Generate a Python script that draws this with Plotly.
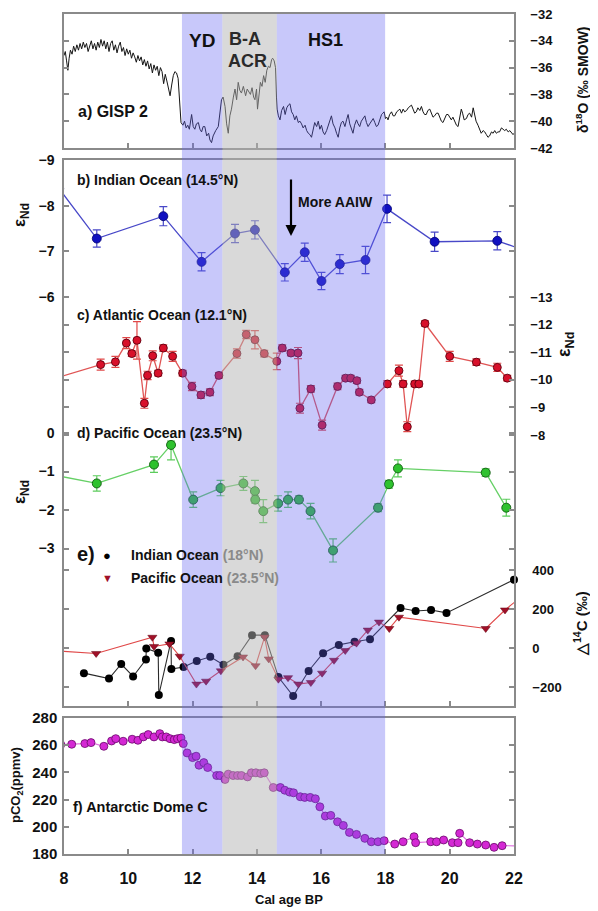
import plotly.graph_objects as go

# ---------------- data ----------------
# a) GISP2 delta18O
gisp_age = [8.00, 8.04, 8.08, 8.12, 8.16, 8.20, 8.25, 8.30, 8.35, 8.40, 8.45, 8.50, 8.55, 8.60, 8.65, 8.70,
            8.75, 8.80, 8.85, 8.90, 8.95, 9.00, 9.05, 9.10, 9.15, 9.20, 9.25, 9.30, 9.35, 9.40, 9.45, 9.50,
            9.55, 9.60, 9.65, 9.70, 9.75, 9.80, 9.85, 9.90, 9.95, 10.00, 10.05, 10.10, 10.15, 10.20, 10.25,
            10.30, 10.35, 10.40, 10.45, 10.50, 10.55, 10.60, 10.65, 10.70, 10.75, 10.80, 10.85, 10.90, 10.95,
            11.00, 11.05, 11.10, 11.15, 11.20, 11.25, 11.30, 11.35, 11.40, 11.45, 11.50, 11.55, 11.60, 11.64,
            11.70, 11.75, 11.80, 11.85, 11.90, 11.97, 12.02, 12.07, 12.12, 12.18, 12.23, 12.28, 12.33, 12.38,
            12.44, 12.50, 12.54, 12.59, 12.64, 12.67, 12.72, 12.80, 12.86, 12.90, 12.95, 13.01, 13.06, 13.11,
            13.16, 13.21, 13.27, 13.32, 13.37, 13.42, 13.47, 13.52, 13.58, 13.62, 13.65, 13.70, 13.75, 13.80,
            13.85, 13.90, 13.94, 13.99, 14.02, 14.06, 14.11, 14.16, 14.21, 14.26, 14.31, 14.36, 14.41, 14.46,
            14.49, 14.54, 14.58, 14.61, 14.63, 14.67, 14.72, 14.77, 14.83, 14.88, 14.93, 14.98, 15.03, 15.08,
            15.13, 15.18, 15.23, 15.29, 15.34, 15.39, 15.44, 15.50, 15.55, 15.60, 15.65, 15.70, 15.75, 15.80,
            15.86, 15.91, 15.96, 16.01, 16.06, 16.11, 16.17, 16.22, 16.27, 16.32, 16.37, 16.43, 16.48, 16.53,
            16.58, 16.63, 16.68, 16.74, 16.79, 16.84, 16.89, 16.94, 16.99, 17.04, 17.10, 17.15, 17.20, 17.25,
            17.31, 17.36, 17.41, 17.46, 17.51, 17.56, 17.62, 17.67, 17.72, 17.77, 17.83, 17.88, 17.92, 17.96,
            18.00, 18.04, 18.08, 18.13, 18.19, 18.24, 18.29, 18.35, 18.40, 18.45, 18.50, 18.55, 18.60, 18.66,
            18.71, 18.76, 18.81, 18.86, 18.91, 18.96, 19.01, 19.07, 19.12, 19.17, 19.22, 19.27, 19.32, 19.38,
            19.43, 19.48, 19.53, 19.59, 19.64, 19.69, 19.74, 19.79, 19.85, 19.90, 19.95, 20.00, 20.05, 20.10,
            20.16, 20.21, 20.26, 20.31, 20.36, 20.40, 20.45, 20.52, 20.57, 20.62, 20.68, 20.73, 20.77, 20.82,
            20.88, 20.93, 20.98, 21.04, 21.09, 21.14, 21.19, 21.24, 21.30, 21.35, 21.40, 21.45, 21.50, 21.55,
            21.61, 21.66, 21.71, 21.76, 21.82, 21.87, 21.92, 21.97, 22.00]
gisp_d18o = [-35.1, -34.8, -35.5, -36.2, -35.3, -34.7, -35.0, -34.4, -34.8, -34.3, -34.7, -34.2, -34.6, -34.1,
             -34.5, -34.2, -34.8, -34.3, -34.0, -34.6, -34.2, -34.7, -34.1, -34.5, -33.9, -34.4, -34.0, -34.6,
             -34.1, -34.8, -34.2, -34.0, -34.7, -34.3, -34.9, -34.4, -34.1, -34.8, -34.5, -35.1, -34.6, -35.0,
             -34.7, -35.3, -34.9, -35.2, -35.6, -35.1, -35.5, -35.2, -35.8, -35.4, -35.9, -35.5, -36.1, -35.7,
             -36.4, -35.8, -36.2, -35.9, -36.6, -36.0, -36.3, -37.2, -36.5, -37.0, -37.6, -38.1, -37.3, -36.6,
             -36.3, -36.4, -36.8, -38.9, -40.1, -40.3, -40.0, -40.5, -40.3, -40.6, -39.5, -40.4, -40.6, -40.2,
             -40.1, -40.6, -40.8, -40.4, -40.4, -41.1, -40.9, -41.4, -41.6, -41.1, -40.9, -40.7, -40.4, -39.3,
             -38.4, -38.2, -38.9, -40.2, -40.9, -39.6, -39.1, -38.2, -37.6, -38.4, -37.1, -37.7, -37.9, -37.4,
             -38.0, -38.1, -37.6, -37.8, -38.0, -37.5, -38.2, -38.4, -37.6, -39.1, -38.0, -37.1, -37.4, -36.6,
             -37.1, -36.2, -35.9, -36.0, -35.4, -35.3, -35.5, -36.0, -38.2, -39.1, -39.6, -39.9, -39.2, -38.9,
             -39.5, -39.0, -38.8, -38.7, -39.3, -39.5, -39.9, -39.6, -40.1, -40.0, -40.2, -40.5, -40.3, -40.7,
             -40.9, -41.0, -41.2, -40.6, -40.1, -40.4, -40.0, -40.6, -40.3, -40.8, -41.0, -40.7, -40.3, -39.9,
             -39.6, -40.2, -40.5, -40.9, -41.2, -40.5, -40.1, -40.0, -40.4, -39.9, -39.5, -40.2, -40.6, -40.9,
             -40.3, -39.9, -40.2, -40.4, -40.0, -39.8, -39.6, -40.1, -40.4, -40.2, -40.0, -39.8, -40.1, -40.4,
             -40.3, -39.9, -39.5, -39.4, -39.3, -39.8, -39.7, -39.9, -39.5, -39.3, -39.6, -39.6, -39.3, -39.2,
             -39.1, -39.4, -39.1, -39.3, -39.2, -39.0, -38.9, -38.8, -39.1, -39.4, -39.3, -39.0, -39.2, -38.9,
             -39.3, -39.5, -39.5, -39.2, -39.1, -39.4, -39.7, -39.6, -39.4, -39.4, -39.7, -40.0, -40.1, -39.8,
             -39.5, -39.5, -39.7, -39.9, -39.7, -40.0, -40.3, -40.4, -39.8, -39.1, -39.4, -39.9, -39.8, -39.5,
             -39.4, -39.7, -39.0, -39.5, -40.0, -40.3, -40.6, -40.9, -40.7, -40.8, -41.0, -41.2, -41.1, -40.8,
             -40.9, -40.7, -40.9, -40.8, -40.8, -40.5, -40.6, -40.7, -40.6, -40.8, -40.7, -40.9, -41.0, -40.9]

# b) Indian Ocean eNd (14.5N)
ind_age = [7.85, 9.02, 11.09, 12.28, 13.32, 13.94, 14.87, 15.49, 16.01, 16.58, 17.38, 18.05, 19.53, 21.48, 22.3]
ind_end = [-8.37, -7.28, -7.77, -6.77, -7.39, -7.47, -6.54, -6.98, -6.35, -6.72, -6.81, -7.93, -7.21, -7.23, -7.03]
ind_err = [0, 0.19, 0.21, 0.20, 0.20, 0.20, 0.19, 0.20, 0.19, 0.21, 0.30, 0.30, 0.21, 0.20, 0]

# c) Atlantic Ocean eNd (12.1N)
atl_age = [7.8, 9.14, 9.60, 9.94, 10.11, 10.27, 10.50, 10.60, 10.76, 10.93, 11.09, 11.38, 11.69, 11.98, 12.26,
           12.54, 12.82, 13.38, 13.67, 13.94, 14.23, 14.62, 14.79, 15.06, 15.28, 15.34, 15.68, 16.03, 16.51,
           16.76, 16.92, 17.11, 17.19, 17.56, 18.06, 18.42, 18.55, 18.68, 18.91, 19.04, 19.23, 20.00, 20.83,
           21.48, 21.79, 22.3]
atl_end = [-10.08, -10.55, -10.65, -11.33, -10.95, -11.43, -9.15, -10.16, -10.87, -10.24, -11.15, -10.85,
           -10.24, -9.76, -9.45, -9.55, -10.16, -10.95, -11.64, -11.45, -10.95, -10.67, -11.15, -10.97, -10.97,
           -8.97, -9.67, -8.36, -9.76, -10.06, -10.06, -9.97, -9.55, -9.27, -9.85, -10.33, -9.85, -8.30, -9.85,
           -9.85, -12.04, -10.85, -10.64, -10.45, -10.06, -9.9]
atl_err = [0, 0.20, 0.20, 0.20, 0.10, 0.68, 0.18, 0.15, 0.18, 0.10, 0.12, 0.18, 0.10, 0.15, 0.12, 0.12, 0.10,
           0.17, 0.15, 0.33, 0.12, 0.30, 0.12, 0.10, 0.20, 0.18, 0.12, 0.18, 0.12, 0.10, 0.10, 0.10, 0.10,
           0.10, 0.12, 0.20, 0.12, 0.18, 0.10, 0.10, 0.10, 0.18, 0.12, 0.15, 0.10, 0]

# d) Pacific Ocean eNd (23.5N)
pac_age = [7.8, 9.02, 10.80, 11.33, 12.02, 12.87, 13.58, 13.94, 13.95, 14.20, 14.66, 14.97, 15.31, 15.67,
           16.37, 17.77, 18.11, 18.39, 21.12, 21.76]
pac_end = [-1.11, -1.31, -0.82, -0.31, -1.73, -1.43, -1.31, -1.51, -1.73, -2.03, -1.83, -1.73, -1.73, -2.03,
           -3.05, -1.94, -1.33, -0.92, -1.03, -1.94]
pac_err_up = [0, .2, .2, .1, .2, .2, .18, .28, .1, .3, .2, .2, .1, .2, .3, .1, .1, .22, .1, .22]
pac_err_dn = [0, .2, .2, .39, .2, .2, .18, .28, .1, .3, .2, .2, .1, .2, .3, .1, .1, .22, .1, .22]

# e) Delta14C
ind14_age = [8.62, 9.40, 9.78, 10.15, 10.55, 10.56, 10.93, 10.95, 11.33, 11.34, 11.72, 12.13, 12.55, 12.96,
             13.40, 13.85, 14.25, 14.67, 15.13, 15.61, 16.06, 16.55, 17.04, 17.52, 18.47, 18.94, 19.42, 19.90, 22.0]
ind14_val = [-129, -157, -82, -146, -59, -3, -24, -241, 36, -108, -97, -67, -45, -86, -42, 66, 66, -149,
             -246, -118, -27, 16, 32, 45, 205, 190, 195, 180, 350]
pac14_age = [7.8, 9.0, 10.75, 10.8, 11.28, 11.6, 12.12, 12.42, 12.88, 13.57, 13.96, 14.24, 14.37, 14.67,
             14.97, 15.29, 15.68, 16.03, 16.4, 16.75, 17.1, 17.45, 17.8, 18.12, 18.42, 21.12, 21.72, 22.2]
pac14_val = [-15, -28, 55, 8, 21, -42, -185, -170, -117, -46, -91, 56, -56, -160, -152, -185, -177, -129,
             -63, -13, 25, 92, 133, 100, 158, 100, 195, 260]

# f) Antarctic Dome C pCO2
co2_age = [7.9, 8.24, 8.65, 8.84, 9.24, 9.48, 9.61, 9.84, 10.12, 10.30, 10.47, 10.62, 10.80, 10.98, 11.06,
           11.18, 11.30, 11.43, 11.53, 11.64, 11.71, 11.83, 12.00, 12.11, 12.20, 12.35, 12.47, 12.75, 12.85,
           13.01, 13.11, 13.26, 13.40, 13.52, 13.71, 13.83, 13.97, 14.12, 14.23, 14.51, 14.73, 14.87, 15.02,
           15.14, 15.35, 15.49, 15.66, 15.82, 15.96, 16.13, 16.30, 16.51, 16.69, 16.88, 17.10, 17.36, 17.56,
           17.77, 17.96, 18.29, 18.55, 18.89, 18.94, 19.41, 19.59, 19.81, 20.08, 20.26, 20.31, 20.62, 20.86,
           21.12, 21.38, 21.63, 22.3]
co2_val = [260.5, 260.7, 261.2, 261.9, 259.2, 263.1, 264.8, 262.9, 264.4, 263.6, 266.1, 267.8, 266.1, 268.5,
           266.1, 266.1, 264.8, 264.1, 264.8, 265.3, 261.2, 254.3, 250.9, 251.9, 245.3, 247.2, 243.6, 237.7,
           237.7, 234.8, 238.7, 237.7, 237.7, 237.7, 236.7, 239.7, 239.7, 239.2, 239.7, 228.9, 228.9, 226.9,
           225.5, 225.0, 222.1, 221.6, 221.6, 220.6, 214.7, 207.9, 208.4, 203.7, 201.0, 195.9, 194.4, 191.5,
           189.0, 189.0, 189.8, 187.3, 189.0, 192.7, 188.3, 189.0, 189.0, 190.3, 188.3, 188.3, 195.2, 188.3,
           187.3, 186.6, 184.9, 186.1, 186.0]

# climate intervals (ka)
yd_span = [11.67, 12.93]
ba_span = [12.93, 14.62]
hs1_span = [14.62, 17.99]

x_ticks = [8, 10, 12, 14, 16, 18, 20, 22]

# ---------------- layout helpers ----------------
OFF = 8                       # page body margin
W, H = 598 - OFF, 911 - OFF   # figure size
L, R, T, B = 64 - OFF, 84, 14 - OFF, 57
PW, PH = W - L - R, H - T - B


def py(p):   # page y pixel -> paper fraction
    return (H - B - (p - OFF)) / PH


def px(p):   # page x pixel -> paper fraction
    return ((p - OFF) - L) / PW


FONT = "Liberation Sans, Arial, sans-serif"
GRAY = "#8a8a8a"

fig = go.Figure()

# GISP2
fig.add_trace(go.Scatter(x=gisp_age, y=gisp_d18o, xaxis="x3", yaxis="y6", mode="lines",
                         line=dict(color="#151515", width=1)))

# Indian eNd
fig.add_trace(go.Scatter(x=ind_age, y=ind_end, xaxis="x2", yaxis="y2", mode="lines+markers",
                         line=dict(color="#4848c8", width=1.3),
                         marker=dict(size=9, color="#1010c0", line=dict(color="#000070", width=0.8)),
                         error_y=dict(type="data", array=ind_err, color="#4848c8", thickness=1.2, width=4)))
# Atlantic eNd
fig.add_trace(go.Scatter(x=atl_age, y=atl_end, xaxis="x2", yaxis="y3", mode="lines+markers",
                         line=dict(color="#e05555", width=1.3),
                         marker=dict(size=8, color="#d8102a", line=dict(color="#600010", width=0.9)),
                         error_y=dict(type="data", array=atl_err, color="#e04848", thickness=1.2, width=4)))
# Pacific eNd
fig.add_trace(go.Scatter(x=pac_age, y=pac_end, xaxis="x2", yaxis="y4", mode="lines+markers",
                         line=dict(color="#66d066", width=1.3),
                         marker=dict(size=9, color="#2ec22e", line=dict(color="#0d5a0d", width=0.9)),
                         error_y=dict(type="data", array=pac_err_up, arrayminus=pac_err_dn,
                                      color="#5ccc5c", thickness=1.2, width=4)))
# Delta14C Indian
fig.add_trace(go.Scatter(x=ind14_age, y=ind14_val, xaxis="x2", yaxis="y5", mode="lines+markers",
                         line=dict(color="#2a2a2a", width=1.1),
                         marker=dict(size=8, color="#000000"), cliponaxis=False))
# Delta14C Pacific
fig.add_trace(go.Scatter(x=pac14_age, y=pac14_val, xaxis="x2", yaxis="y5", mode="lines+markers",
                         line=dict(color="#e04848", width=1.1),
                         marker=dict(size=8, symbol="triangle-down", color="#a01028",
                                     line=dict(color="#600010", width=0.5))))
# CO2
fig.add_trace(go.Scatter(x=co2_age, y=co2_val, xaxis="x", yaxis="y", mode="lines+markers",
                         line=dict(color="#e070e0", width=1.2),
                         marker=dict(size=8, color="#d428d4", line=dict(color="#6a0a6a", width=0.8))))


def tf(size):
    return dict(family=FONT, size=size, color="#111111", weight="bold")


axis_common = dict(showgrid=False, zeroline=False, showline=True, linecolor=GRAY, linewidth=1.5,
                   ticks="inside", ticklen=5, tickwidth=1.5, tickcolor=GRAY, ticklabeloverflow="allow")

xdom = [0, 1]
fig.update_layout(
    width=W, height=H, margin=dict(l=L, r=R, t=T, b=B, autoexpand=False),
    paper_bgcolor="white", plot_bgcolor="rgba(0,0,0,0)", showlegend=False,
    font=dict(family=FONT, color="#111111"),
    xaxis=dict(domain=xdom, anchor="y", range=[8, 22], tickvals=x_ticks, mirror=True,
               ticklabelstandoff=9, tickfont=tf(16), **axis_common),
    xaxis2=dict(domain=xdom, anchor="y2", range=[8, 22], tickvals=x_ticks, showticklabels=False,
                mirror=True, **axis_common),
    xaxis3=dict(domain=xdom, anchor="y6", range=[8, 22], tickvals=x_ticks, showticklabels=False,
                mirror=True, **axis_common),
    yaxis=dict(domain=[0, py(718)], anchor="x", range=[180, 280], tickvals=[180, 200, 220, 240, 260, 280],
               side="left", mirror="ticks", tickfont=tf(15), ticklabelstandoff=2, **axis_common),
    yaxis2=dict(domain=[py(706), py(160)], anchor="x2", range=[2.956, -9], tickvals=[-9, -8, -7, -6],
                side="left", mirror="ticks", tickfont=tf(14), ticklabelstandoff=5, **axis_common),
    yaxis3=dict(overlaying="y2", anchor="x2", range=[1.819, -17.964], tickvals=[-13, -12, -11, -10, -9, -8],
                side="right", mirror="ticks", tickfont=tf(13), ticklabelstandoff=12, **axis_common),
    yaxis4=dict(overlaying="y2", anchor="x2", range=[-7.09, 7.09], tickvals=[0, -1, -2, -3],
                side="left", mirror="ticks", tickfont=tf(14), ticklabelstandoff=5, **axis_common),
    yaxis5=dict(overlaying="y2", anchor="x2", range=[-297.4, 2502.6], tickvals=[400, 200, 0, -200],
                side="right", mirror="ticks", tickfont=tf(13), ticklabelstandoff=14, **axis_common),
    yaxis6=dict(domain=[py(148), 1], anchor="x3", range=[-42, -32], tickvals=[-42, -40, -38, -36, -34, -32],
                side="right", mirror="ticks", tickfont=tf(13), ticklabelstandoff=12, **axis_common),
)

# shaded intervals drawn over the data (transparent)
for span, col in [(yd_span, "rgba(98,98,240,0.35)"), (ba_span, "rgba(179,179,179,0.5)"),
                  (hs1_span, "rgba(98,98,240,0.35)")]:
    fig.add_shape(type="rect", xref="x", yref="paper", x0=span[0], x1=span[1], y0=0, y1=1,
                  fillcolor=col, line=dict(width=0), layer="above")


def label(text, x, y, size=14, xanchor="left", color="#111111", angle=0):
    fig.add_annotation(text=text, xref="paper", yref="paper", x=px(x), y=py(y), showarrow=False,
                       xanchor=xanchor, yanchor="middle", textangle=angle, borderpad=0,
                       font=dict(family=FONT, size=size, color=color, weight="bold"))


label("YD", 202, 40, size=19, xanchor="center")
label("B-A", 245, 39, size=18, xanchor="center", color="#2a2a2a")
label("ACR", 247, 61, size=18, xanchor="center", color="#2a2a2a")
label("HS1", 325, 40, size=18, xanchor="center")
label("a) GISP 2", 77, 111, size=16)
label("b) Indian Ocean (14.5°N)", 76, 180)
label("More AAIW", 297, 202)
label("c) Atlantic Ocean (12.1°N)", 76, 315)
label("d) Pacific Ocean (23.5°N)", 76, 433)
label("e)", 76, 554, size=20)
label("●", 107, 555, size=13, xanchor="center", color="#000000")
label("▼", 107, 578, size=11, xanchor="center", color="#a01028")
label("Indian Ocean <span style='color:#8a8a8a'>(18°N)</span>", 130, 555)
label("Pacific Ocean <span style='color:#8a8a8a'>(23.5°N)</span>", 130, 578)
label("f) Antarctic Dome C", 72, 807, size=14.5)
label("Cal age BP", 289, 899, size=13, xanchor="center")

# axis titles
label("δ<sup>18</sup>O (‰ SMOW)", 582, 80, size=14, xanchor="center", angle=-90)
label("ε<sub>Nd</sub>", 565, 345, size=18, xanchor="center", angle=-90)
label("△<sup>14</sup>C (‰)", 580, 624, size=15, xanchor="center", angle=-90)
label("ε<sub>Nd</sub>", 21, 215, size=17, xanchor="center", angle=-90)
label("ε<sub>Nd</sub>", 21, 492, size=17, xanchor="center", angle=-90)
label("pCO<sub>2</sub>(ppmv)", 16, 785, size=13, xanchor="center", angle=-90)

# arrow "More AAIW"
fig.add_annotation(xref="paper", yref="paper", x=px(291), y=py(236), ax=0, ay=-58, text="",
                   showarrow=True, arrowhead=2, arrowsize=1, arrowwidth=2.2, arrowcolor="#000000")

fig.write_html("out.html")
